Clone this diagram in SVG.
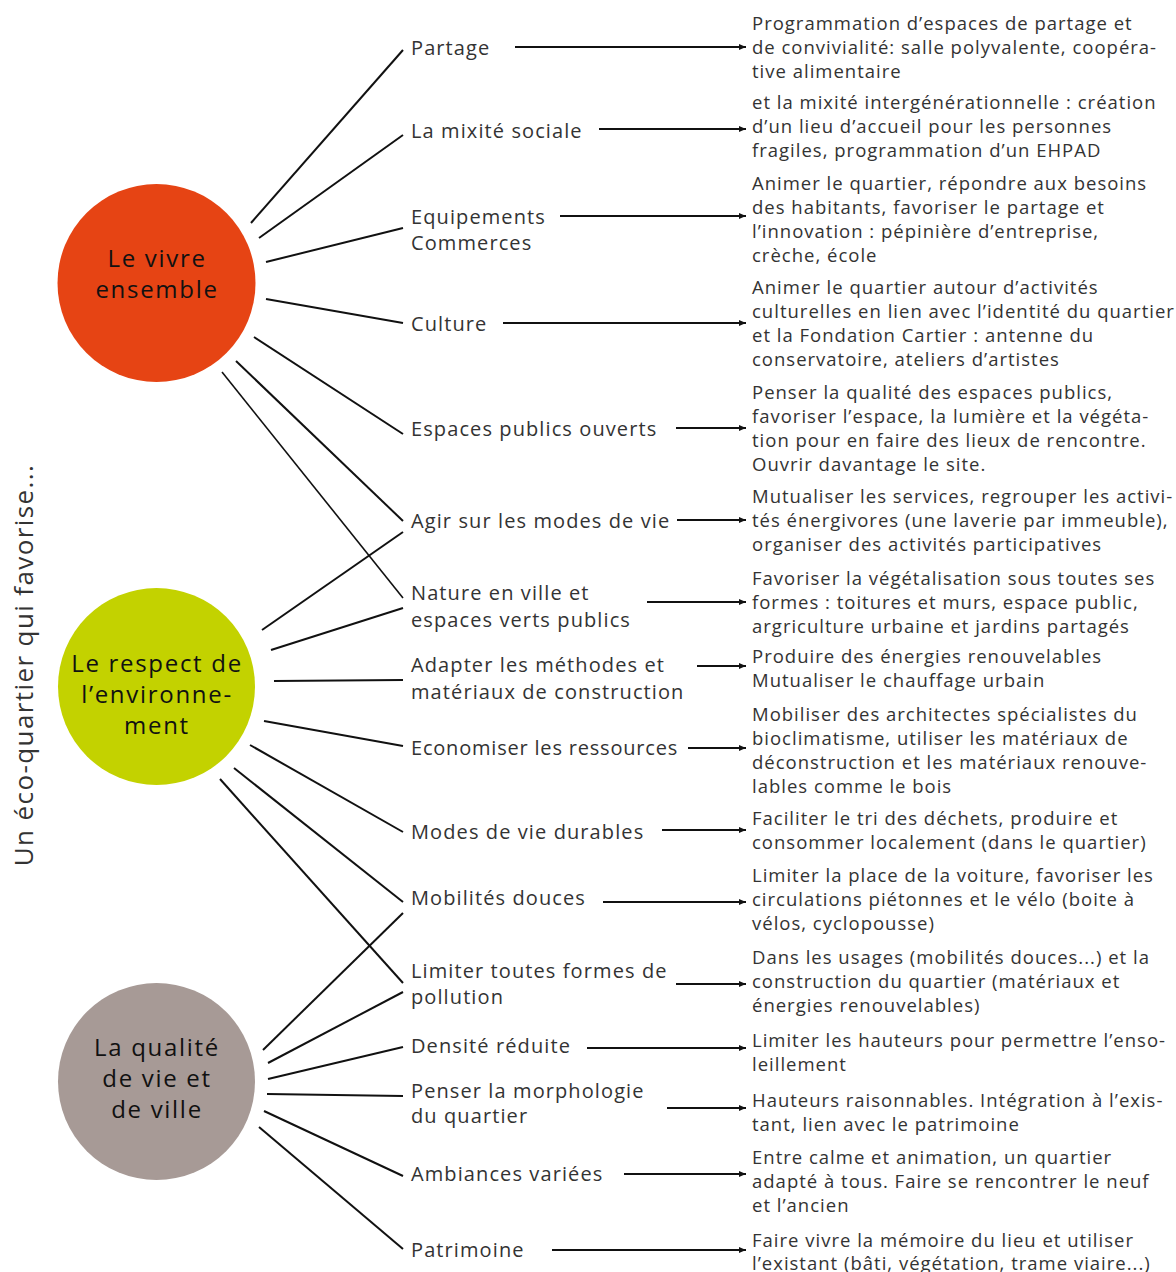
<svg xmlns="http://www.w3.org/2000/svg" width="1176" height="1272" viewBox="0 0 1176 1272">
<defs>
<marker id="ah" markerWidth="8" markerHeight="8" refX="7" refY="4" orient="auto" markerUnits="userSpaceOnUse">
<path d="M0,1 L7,4 L0,7 z" fill="#111"/>
</marker>
<style>
.c{font-family:"Open Sans","DejaVu Sans",sans-serif;font-size:24px;letter-spacing:1.7px;fill:#111;text-anchor:middle}
.m{font-family:"Open Sans","DejaVu Sans",sans-serif;font-size:20px;letter-spacing:1.1px;fill:#333}
.r{font-family:"Open Sans","DejaVu Sans",sans-serif;font-size:18.5px;letter-spacing:1px;fill:#333}
.t{font-family:"Open Sans","DejaVu Sans",sans-serif;font-size:26px;letter-spacing:1.4px;fill:#333;text-anchor:middle}
.ln{stroke:#111;stroke-width:2;fill:none}
.ar{stroke:#111;stroke-width:1.8;fill:none;marker-end:url(#ah)}
</style>
</defs>
<rect width="1176" height="1272" fill="#fff"/>
<text class="t" transform="translate(33,665) rotate(-90)">Un éco-quartier qui favorise...</text>

<g id="connectors">
<line class="ln" x1="251" y1="223" x2="403" y2="50"/>
<line class="ln" x1="259" y1="238" x2="403" y2="135"/>
<line class="ln" x1="266" y1="262" x2="403" y2="228"/>
<line class="ln" x1="266" y1="299" x2="403" y2="323"/>
<line class="ln" x1="254" y1="337" x2="403" y2="434"/>
<line class="ln" x1="236" y1="361" x2="403" y2="521"/>
<line class="ln" x1="222" y1="372" x2="403" y2="598" style="stroke-width:1.6"/>
<line class="ln" x1="262" y1="630" x2="403" y2="532"/>
<line class="ln" x1="271" y1="650" x2="403" y2="608"/>
<line class="ln" x1="274" y1="681" x2="403" y2="680"/>
<line class="ln" x1="264" y1="721" x2="403" y2="746"/>
<line class="ln" x1="250" y1="745" x2="403" y2="832"/>
<line class="ln" x1="234" y1="768" x2="403" y2="902"/>
<line class="ln" x1="220" y1="779" x2="403" y2="983"/>
<line class="ln" x1="263" y1="1050" x2="403" y2="913"/>
<line class="ln" x1="268" y1="1063" x2="403" y2="992"/>
<line class="ln" x1="268" y1="1079" x2="403" y2="1047"/>
<line class="ln" x1="267" y1="1094" x2="403" y2="1096"/>
<line class="ln" x1="264" y1="1111" x2="403" y2="1176"/>
<line class="ln" x1="259" y1="1127" x2="403" y2="1249"/>

<line class="ar" x1="515" y1="47" x2="746" y2="47"/>
<line class="ar" x1="599" y1="129" x2="746" y2="129"/>
<line class="ar" x1="560" y1="216" x2="746" y2="216"/>
<line class="ar" x1="503" y1="323" x2="746" y2="323"/>
<line class="ar" x1="676" y1="428" x2="746" y2="428"/>
<line class="ar" x1="677" y1="520" x2="746" y2="520"/>
<line class="ar" x1="647" y1="602" x2="746" y2="602"/>
<line class="ar" x1="697" y1="666" x2="746" y2="666"/>
<line class="ar" x1="688" y1="748" x2="746" y2="748"/>
<line class="ar" x1="662" y1="830" x2="746" y2="830"/>
<line class="ar" x1="603" y1="902" x2="746" y2="902"/>
<line class="ar" x1="676" y1="984" x2="746" y2="984"/>
<line class="ar" x1="587" y1="1048" x2="746" y2="1048"/>
<line class="ar" x1="667" y1="1108" x2="746" y2="1108"/>
<line class="ar" x1="624" y1="1174" x2="746" y2="1174"/>
<line class="ar" x1="552" y1="1250" x2="746" y2="1250"/>
</g>

<g id="n-vivre">
<circle cx="156.5" cy="283" r="99" fill="#E64414"/>
<text class="c" x="157" y="267">Le vivre</text>
<text class="c" x="157" y="298">ensemble</text>
</g>
<g id="n-env">
<circle cx="156.5" cy="686.5" r="98.5" fill="#C3D200"/>
<text class="c" x="157" y="672">Le respect de</text>
<text class="c" x="157" y="703">l’environne-</text>
<text class="c" x="157" y="734">ment</text>
</g>
<g id="n-qualite">
<circle cx="156.5" cy="1081.5" r="98.5" fill="#A79A96"/>
<text class="c" x="157" y="1056">La qualité</text>
<text class="c" x="157" y="1087">de vie et</text>
<text class="c" x="157" y="1118">de ville</text>
</g>

<g id="m-partage"><text class="m" x="411" y="55">Partage</text></g>
<g id="m-mixite"><text class="m" x="411" y="138">La mixité sociale</text></g>
<g id="m-equip"><text class="m" x="411" y="224">Equipements</text><text class="m" x="411" y="250">Commerces</text></g>
<g id="m-culture"><text class="m" x="411" y="331">Culture</text></g>
<g id="m-espaces"><text class="m" x="411" y="436">Espaces publics ouverts</text></g>
<g id="m-agir"><text class="m" x="411" y="528">Agir sur les modes de vie</text></g>
<g id="m-nature"><text class="m" x="411" y="600">Nature en ville et</text><text class="m" x="411" y="627">espaces verts publics</text></g>
<g id="m-adapter"><text class="m" x="411" y="672">Adapter les méthodes et</text><text class="m" x="411" y="699">matériaux de construction</text></g>
<g id="m-econ"><text class="m" x="411" y="755" style="letter-spacing:0.8px">Economiser les ressources</text></g>
<g id="m-modes"><text class="m" x="411" y="839">Modes de vie durables</text></g>
<g id="m-mob"><text class="m" x="411" y="905">Mobilités douces</text></g>
<g id="m-limiter"><text class="m" x="411" y="978">Limiter toutes formes de</text><text class="m" x="411" y="1004">pollution</text></g>
<g id="m-densite"><text class="m" x="411" y="1053">Densité réduite</text></g>
<g id="m-penser"><text class="m" x="411" y="1098">Penser la morphologie</text><text class="m" x="411" y="1123">du quartier</text></g>
<g id="m-amb"><text class="m" x="411" y="1181">Ambiances variées</text></g>
<g id="m-patri"><text class="m" x="411" y="1257">Patrimoine</text></g>

<g id="r1"><text class="r" x="752" y="30">Programmation d’espaces de partage et</text><text class="r" x="752" y="54">de convivialité: salle polyvalente, coopéra-</text><text class="r" x="752" y="78">tive alimentaire</text></g>
<g id="r2"><text class="r" x="752" y="109">et la mixité intergénérationnelle : création</text><text class="r" x="752" y="133">d’un lieu d’accueil pour les personnes</text><text class="r" x="752" y="157">fragiles, programmation d’un EHPAD</text></g>
<g id="r3"><text class="r" x="752" y="190">Animer le quartier,  répondre aux besoins</text><text class="r" x="752" y="214">des habitants, favoriser le partage et</text><text class="r" x="752" y="238">l’innovation : pépinière d’entreprise,</text><text class="r" x="752" y="262">crèche, école</text></g>
<g id="r4"><text class="r" x="752" y="294">Animer le quartier autour d’activités</text><text class="r" x="752" y="318">culturelles en lien avec l’identité du quartier</text><text class="r" x="752" y="342">et la Fondation Cartier : antenne du</text><text class="r" x="752" y="366">conservatoire, ateliers d’artistes</text></g>
<g id="r5"><text class="r" x="752" y="399">Penser la qualité des espaces publics,</text><text class="r" x="752" y="423">favoriser l’espace, la lumière et la végéta-</text><text class="r" x="752" y="447">tion pour en faire des lieux de rencontre.</text><text class="r" x="752" y="471">Ouvrir davantage le site.</text></g>
<g id="r6"><text class="r" x="752" y="503">Mutualiser les services, regrouper les activi-</text><text class="r" x="752" y="527">tés énergivores (une laverie par immeuble),</text><text class="r" x="752" y="551">organiser des activités participatives</text></g>
<g id="r7"><text class="r" x="752" y="585">Favoriser la végétalisation sous toutes ses</text><text class="r" x="752" y="609">formes : toitures et murs, espace public,</text><text class="r" x="752" y="633">argriculture urbaine et jardins partagés</text></g>
<g id="r8"><text class="r" x="752" y="663">Produire des énergies renouvelables</text><text class="r" x="752" y="687">Mutualiser le chauffage urbain</text></g>
<g id="r9"><text class="r" x="752" y="721">Mobiliser des architectes spécialistes du</text><text class="r" x="752" y="745">bioclimatisme, utiliser les matériaux de</text><text class="r" x="752" y="769">déconstruction et les matériaux renouve-</text><text class="r" x="752" y="793">lables comme le bois</text></g>
<g id="r10"><text class="r" x="752" y="825">Faciliter le tri des déchets, produire et</text><text class="r" x="752" y="849">consommer localement (dans le quartier)</text></g>
<g id="r11"><text class="r" x="752" y="882">Limiter la place de la voiture, favoriser les</text><text class="r" x="752" y="906">circulations piétonnes et le vélo (boite à</text><text class="r" x="752" y="930">vélos, cyclopousse)</text></g>
<g id="r12"><text class="r" x="752" y="964">Dans les usages (mobilités douces...) et la</text><text class="r" x="752" y="988">construction du quartier (matériaux et</text><text class="r" x="752" y="1012">énergies renouvelables)</text></g>
<g id="r13"><text class="r" x="752" y="1047">Limiter les hauteurs pour permettre l’enso-</text><text class="r" x="752" y="1071">leillement</text></g>
<g id="r14"><text class="r" x="752" y="1107">Hauteurs raisonnables. Intégration à l’exis-</text><text class="r" x="752" y="1131">tant, lien avec le patrimoine</text></g>
<g id="r15"><text class="r" x="752" y="1164">Entre calme et animation, un quartier</text><text class="r" x="752" y="1188">adapté à tous. Faire se rencontrer le neuf</text><text class="r" x="752" y="1212">et l’ancien</text></g>
<g id="r16"><text class="r" x="752" y="1247">Faire vivre la mémoire du lieu et utiliser</text><text class="r" x="752" y="1270">l’existant (bâti, végétation, trame viaire...)</text></g>
</svg>
